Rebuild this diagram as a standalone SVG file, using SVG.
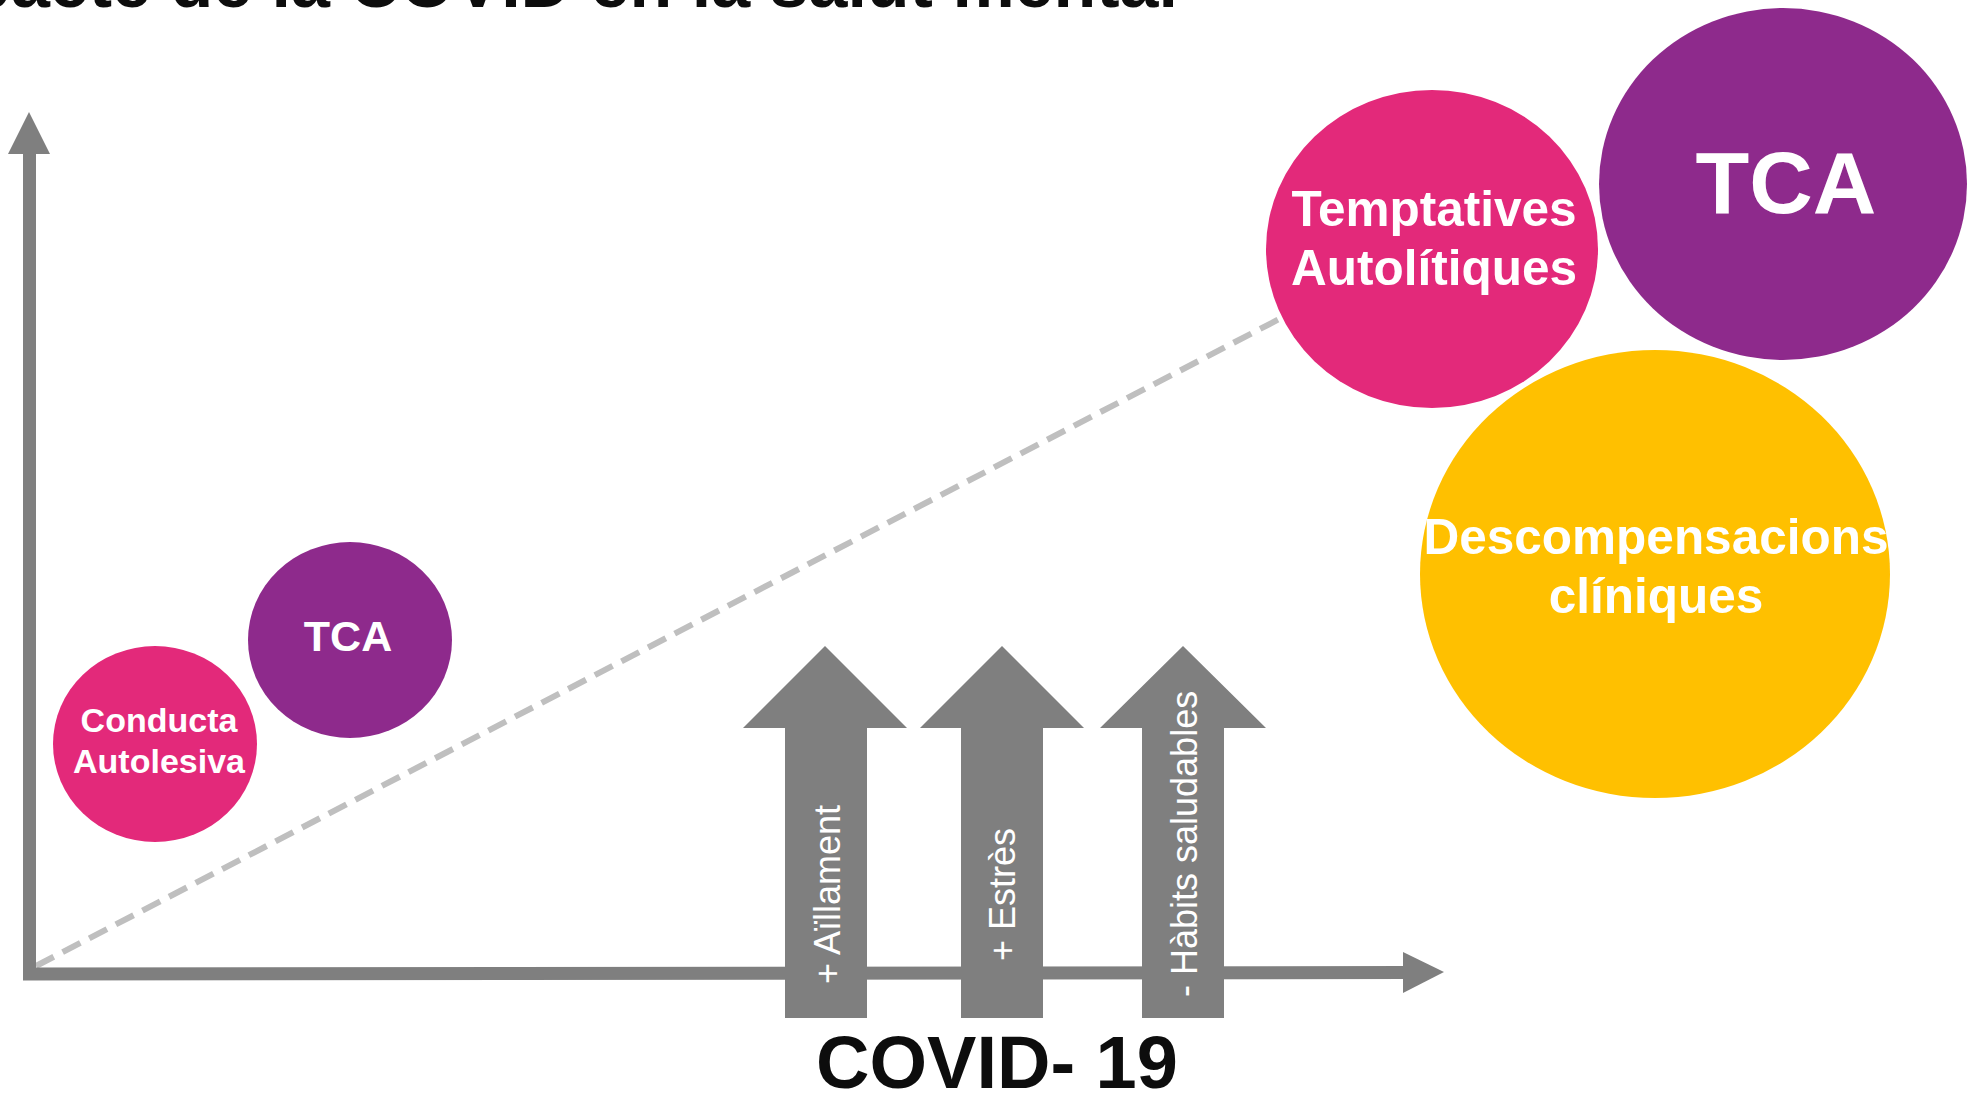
<svg xmlns="http://www.w3.org/2000/svg" width="1979" height="1096" viewBox="0 0 1979 1096">
<style>
text{font-family:"Liberation Sans",Arial,sans-serif;}
.b{font-weight:bold;}
.lbl{fill:#ffffff;font-weight:bold;text-anchor:middle;}
.alab{fill:#ffffff;font-size:36px;}
.axis{stroke:#7f7f7f;stroke-width:13;fill:none;}
.head{fill:#7f7f7f;}
.blk{fill:#7f7f7f;}
.dash{stroke:#bfbfbf;stroke-width:6;stroke-dasharray:20 10;fill:none;}
.pink{fill:#e3297a;}
.purple{fill:#8e2a8c;}
.yellow{fill:#ffc000;}
</style>
<rect width="1979" height="1096" fill="#ffffff"/>
<text id="title" class="b" x="1178" y="7" font-size="70" fill="#0d0d0d" text-anchor="end">Impacte de la COVID en la salut mental</text>
<g id="connectors">
<line class="dash" x1="36" y1="966" x2="1285" y2="316"/>
<polyline class="axis" points="29.5,150 29.5,974 1405,972.5"/>
<polygon class="head" points="29,112 50,154 8,154"/>
<polygon class="head" points="1444,972 1403,993 1403,952"/>
</g>
<g id="node-conducta">
<ellipse class="pink" cx="155" cy="744" rx="102" ry="98"/>
<text class="lbl" font-size="34" x="159" y="732">Conducta</text>
<text class="lbl" font-size="34" x="159" y="773">Autolesiva</text>
</g>
<g id="node-tca-small">
<ellipse class="purple" cx="350" cy="640" rx="102" ry="98"/>
<text class="lbl" font-size="43" x="348" y="651">TCA</text>
</g>
<g id="node-temptatives">
<ellipse class="pink" cx="1432" cy="249" rx="166" ry="159"/>
<text class="lbl" font-size="49.5" x="1434" y="226">Temptatives</text>
<text class="lbl" font-size="49.5" x="1434" y="285">Autolítiques</text>
</g>
<g id="node-tca-large">
<ellipse class="purple" cx="1783" cy="184" rx="184" ry="176"/>
<text class="lbl" font-size="88" x="1786" y="213">TCA</text>
</g>
<g id="node-descompensacions">
<ellipse class="yellow" cx="1655" cy="574" rx="235" ry="224"/>
<text class="lbl" font-size="49.5" x="1656" y="554">Descompensacions</text>
<text class="lbl" font-size="49.5" x="1656" y="613">clíniques</text>
</g>
<g id="node-aillament">
<polygon class="blk" points="825,646 907,728 867,728 867,1018 785,1018 785,728 743,728"/>
<text class="alab" transform="translate(840,984) rotate(-90)">+ Aïllament</text>
</g>
<g id="node-estres">
<polygon class="blk" points="1002,646 1084,728 1043,728 1043,1018 961,1018 961,728 920,728"/>
<text class="alab" transform="translate(1015,961) rotate(-90)">+ Estrès</text>
</g>
<g id="node-habits">
<polygon class="blk" points="1183,646 1266,728 1224,728 1224,1018 1142,1018 1142,728 1100,728"/>
<text class="alab" transform="translate(1197,997) rotate(-90)">- Hàbits saludables</text>
</g>
<text id="covid" class="b" x="997" y="1088" font-size="74" fill="#0d0d0d" text-anchor="middle">COVID- 19</text>
</svg>
